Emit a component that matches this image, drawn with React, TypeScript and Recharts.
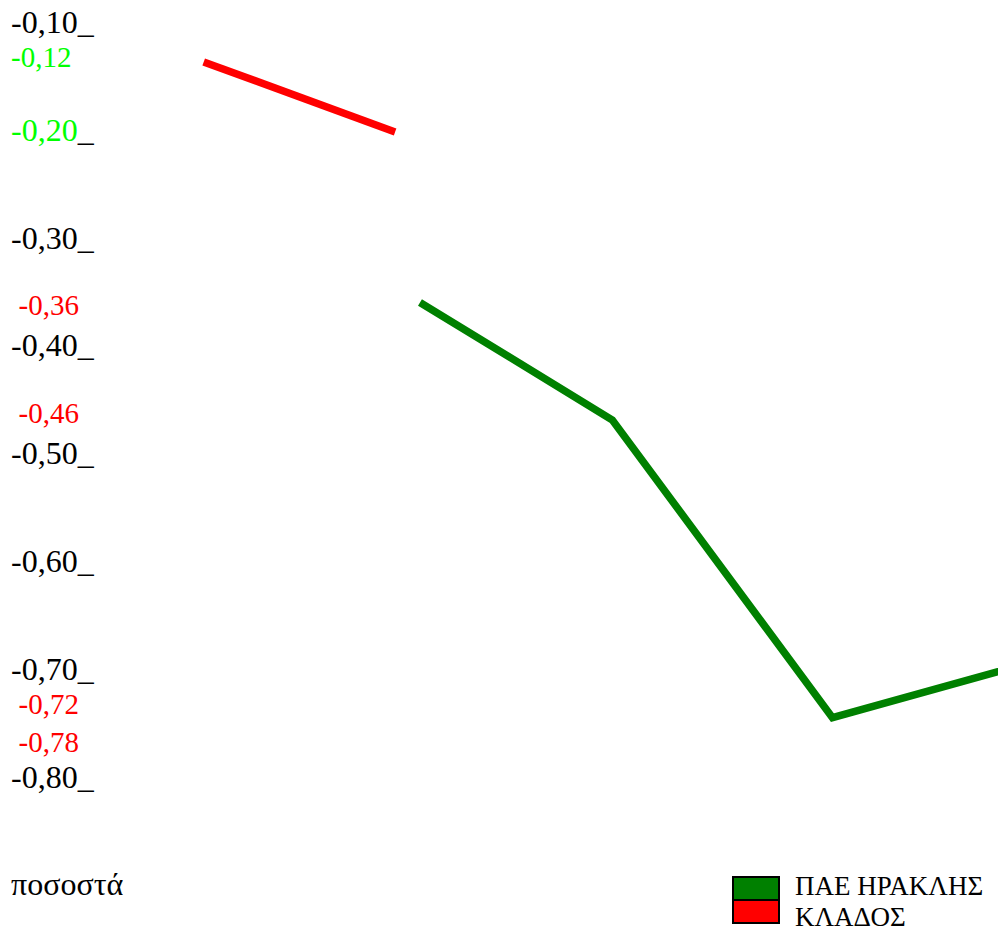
import React from 'react';
import { LineChart, Line, XAxis, YAxis, Legend } from 'recharts';

// ---------- data ----------
const axisTicks = [-0.1, -0.2, -0.3, -0.4, -0.5, -0.6, -0.7, -0.8];
const greenMarks = [-0.12, -0.2];
const redMarks = [-0.36, -0.46, -0.72, -0.78];

const clubName = 'ΠΑΕ ΗΡΑΚΛΗΣ';
const sectorName = 'ΚΛΑΔΟΣ';
const unitLabel = 'ποσοστά';

const sectorPeriods = [1, 3];
const sectorValues = [-0.137, -0.202];
const clubPeriods = [3.26, 5.27, 7.57, 9.8];
const clubValues = [-0.36, -0.469, -0.745, -0.69];

// ---------- layout / style ----------
const CHART_W = 998;
const CHART_H = 933;
const MARGIN = { top: 22, right: 0, bottom: 156, left: 0 };
const Y_DOMAIN: [number, number] = [-0.8, -0.1];
const X_DOMAIN: [number, number] = [0, 9.3];
const PLOT_H = CHART_H - MARGIN.top - MARGIN.bottom;
const PX_PER_UNIT = PLOT_H / (Y_DOMAIN[1] - Y_DOMAIN[0]);
const LABEL_GAP = 35;
const SERIF = '"Liberation Serif", "Times New Roman", serif';
const CLUB_COLOR = '#008000';
const SECTOR_COLOR = '#ff0000';
const GREEN_MARK = '#00ff00';
const RED_MARK = '#ff0000';

const sectorData = sectorPeriods.map((t, i) => ({ t, v: sectorValues[i] }));
const clubData = clubPeriods.map((t, i) => ({ t, v: clubValues[i] }));
const allTicks = Array.from(new Set([...axisTicks, ...greenMarks, ...redMarks])).sort((a, b) => b - a);

const has = (arr: number[], v: number) => arr.some((a) => Math.abs(a - v) < 1e-9);
const fmt = (v: number) => v.toFixed(2).replace('.', ',');

function YTick(props: any) {
  const { x, y, payload } = props;
  const v = payload.value as number;
  const color = has(greenMarks, v) ? GREEN_MARK : has(redMarks, v) ? RED_MARK : '#000';
  const left = x - 89;
  if (has(axisTicks, v)) {
    return (
      <text x={left} y={y + 10.8} fontFamily={SERIF} fontSize={32} textAnchor="start">
        <tspan fill={color}>{fmt(v)}</tspan>
        <tspan fill="#000">_</tspan>
      </text>
    );
  }
  // extra highlighted value: keep clear of the regular axis labels
  let cy = y + 3;
  for (const t of axisTicks) {
    const ty = y + (v - t) * PX_PER_UNIT;
    if (Math.abs(cy - ty) < LABEL_GAP) cy = cy > ty ? ty + LABEL_GAP : ty - LABEL_GAP;
  }
  const indent = has(greenMarks, v) ? 0 : 7.5;
  return (
    <text x={left + indent} y={cy + 9.8} fill={color} fontFamily={SERIF} fontSize={29} textAnchor="start">
      {fmt(v)}
    </text>
  );
}

function UnitLabel(props: any) {
  const vb = props.viewBox || { x: 0, y: MARGIN.top, height: PLOT_H };
  return (
    <text x={vb.x + 11} y={vb.y + vb.height + 118} fontFamily={SERIF} fontSize={32} fill="#000">
      {unitLabel}
    </text>
  );
}

const seriesOrder = [clubName, sectorName];

function LegendContent(props: any) {
  const payload = [...(props.payload || [])].sort(
    (a: any, b: any) => seriesOrder.indexOf(a.value) - seriesOrder.indexOf(b.value)
  );
  return (
    <div style={{ position: 'relative', width: 268, height: 62, fontFamily: SERIF, fontSize: 27, color: '#000' }}>
      {payload.map((p: any, i: number) => (
        <React.Fragment key={p.value}>
          <div
            style={{
              position: 'absolute',
              left: 0.7,
              top: 5 + i * 23,
              width: 48,
              height: 25,
              boxSizing: 'border-box',
              border: '2px solid #000',
              background: p.color,
            }}
          />
          <div style={{ position: 'absolute', left: 64, top: i * 31, lineHeight: '31px', whiteSpace: 'nowrap' }}>
            {p.value}
          </div>
        </React.Fragment>
      ))}
    </div>
  );
}

export default function App() {
  return (
    <div
      style={{
        position: 'fixed',
        left: 0,
        top: 0,
        width: CHART_W,
        height: CHART_H,
        overflow: 'hidden',
        background: '#fff',
      }}
    >
      <LineChart width={CHART_W} height={CHART_H} margin={MARGIN}>
        <XAxis type="number" dataKey="t" domain={X_DOMAIN} allowDataOverflow hide />
        <YAxis
          type="number"
          domain={Y_DOMAIN}
          ticks={allTicks}
          interval={0}
          width={108}
          axisLine={false}
          tickLine={false}
          tick={<YTick />}
          label={<UnitLabel />}
        />
        <Legend
          layout="horizontal"
          verticalAlign="middle"
          align="center"
          wrapperStyle={{ left: 731, top: 871.2, width: 268, height: 62 }}
          content={<LegendContent />}
        />
        <Line
          data={clubData}
          dataKey="v"
          name={clubName}
          stroke={CLUB_COLOR}
          strokeWidth={7.5}
          strokeLinecap="butt"
          strokeLinejoin="miter"
          dot={false}
          activeDot={false}
          isAnimationActive={false}
        />
        <Line
          data={sectorData}
          dataKey="v"
          name={sectorName}
          stroke={SECTOR_COLOR}
          strokeWidth={7.5}
          strokeLinecap="butt"
          strokeLinejoin="miter"
          dot={false}
          activeDot={false}
          isAnimationActive={false}
        />
      </LineChart>
    </div>
  );
}
